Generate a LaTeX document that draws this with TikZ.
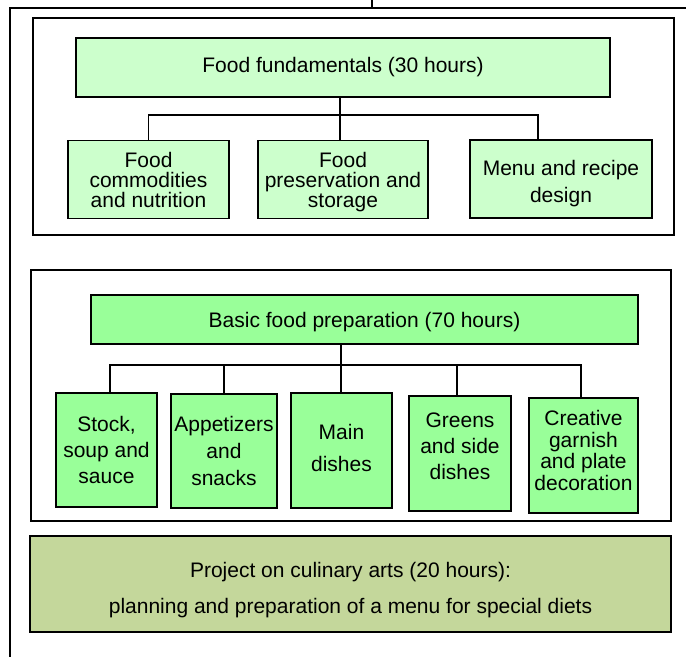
\documentclass[tikz,border=0pt]{standalone}
\usepackage{fontspec}
\setmainfont{Liberation Sans}
\usetikzlibrary{positioning}
\definecolor{palegreen}{HTML}{CCFFCC}
\definecolor{midgreen}{HTML}{99FF99}
\definecolor{olivegreen}{HTML}{C4D79B}

\begin{document}
\begin{tikzpicture}[x=1pt, y=-1pt, line width=1.4pt,
  unit/.style={draw, align=center, inner sep=0pt, font=\fontsize{21}{20}\selectfont},
  fundamental/.style={unit, fill=palegreen},
  preparation/.style={unit, fill=midgreen, font=\fontsize{21}{26}\selectfont},
  project/.style={unit, fill=olivegreen, font=\fontsize{21}{36}\selectfont}]
\useasboundingbox (0,0) rectangle (686,657);
\draw (372,0) -- (372,8) (686,8) -- (10,8) -- (10,657);
\draw (33,18) rectangle (674,235);
\draw (31,270) rectangle (671,521);

\node[fundamental, minimum width=534pt, minimum height=59pt] (ff) at (343,67.5) {Food fundamentals (30 hours)};
\node[fundamental, minimum width=161pt, minimum height=78pt] (fc) at (148.5,179.5) {Food\\commodities\\and nutrition};
\node[fundamental, minimum width=170pt, minimum height=78pt, text depth=0pt] (fp) at (343,179.5) {Food\\preservation and\\storage};
\node[fundamental, minimum width=182pt, minimum height=78pt, text height=47pt, text depth=0pt, font=\fontsize{21}{27}\selectfont] (mr) at (561,179) {Menu and recipe\\design};

\node[preparation, minimum width=547pt, minimum height=49pt, text depth=0pt] (bfp) at (364.5,319.5) {Basic food preparation (70 hours)};
\node[preparation, minimum width=101pt, minimum height=114pt] (st) at (106.5,450) {Stock,\\soup and\\sauce};
\node[preparation, minimum width=106pt, minimum height=114pt, font=\fontsize{21}{27}\selectfont] (ap) at (224,451) {Appetizers\\and\\snacks};
\node[preparation, minimum width=101pt, minimum height=115pt, text depth=6pt, font=\fontsize{21}{32}\selectfont] (md) at (341.5,450.5) {Main\\dishes};
\node[preparation, minimum width=102pt, minimum height=115pt, text depth=14pt] (gs) at (460,453.5) {Greens\\and side\\dishes};
\node[preparation, minimum width=109pt, minimum height=115pt, text depth=10pt, font=\fontsize{21}{21.5}\selectfont] (cg) at (583.5,455.5) {Creative\\garnish\\and plate\\decoration};

\node[project, minimum width=641pt, minimum height=96pt, text height=59pt, text depth=0pt] (proj) at (350.5,584) {Project on culinary arts (20 hours):\\planning and preparation of a menu for special diets};

\coordinate (busA) at (340,115);
\draw (ff.south -| busA) -- (busA);
\draw (fc.north) |- (busA) -- (busA |- fp.north);
\draw ([xshift=-23pt]mr.north) |- (busA);

\coordinate (busB) at (341,365);
\draw (bfp.south -| busB) -- (busB |- md.north);
\draw ([xshift=3.5pt]st.north) |- (busB) -| ([xshift=-2.5pt]cg.north);
\draw (ap.north) -- (ap.north |- busB);
\draw ([xshift=-3pt]gs.north) -- ([xshift=-3pt]gs.north |- busB);
\end{tikzpicture}
\end{document}
